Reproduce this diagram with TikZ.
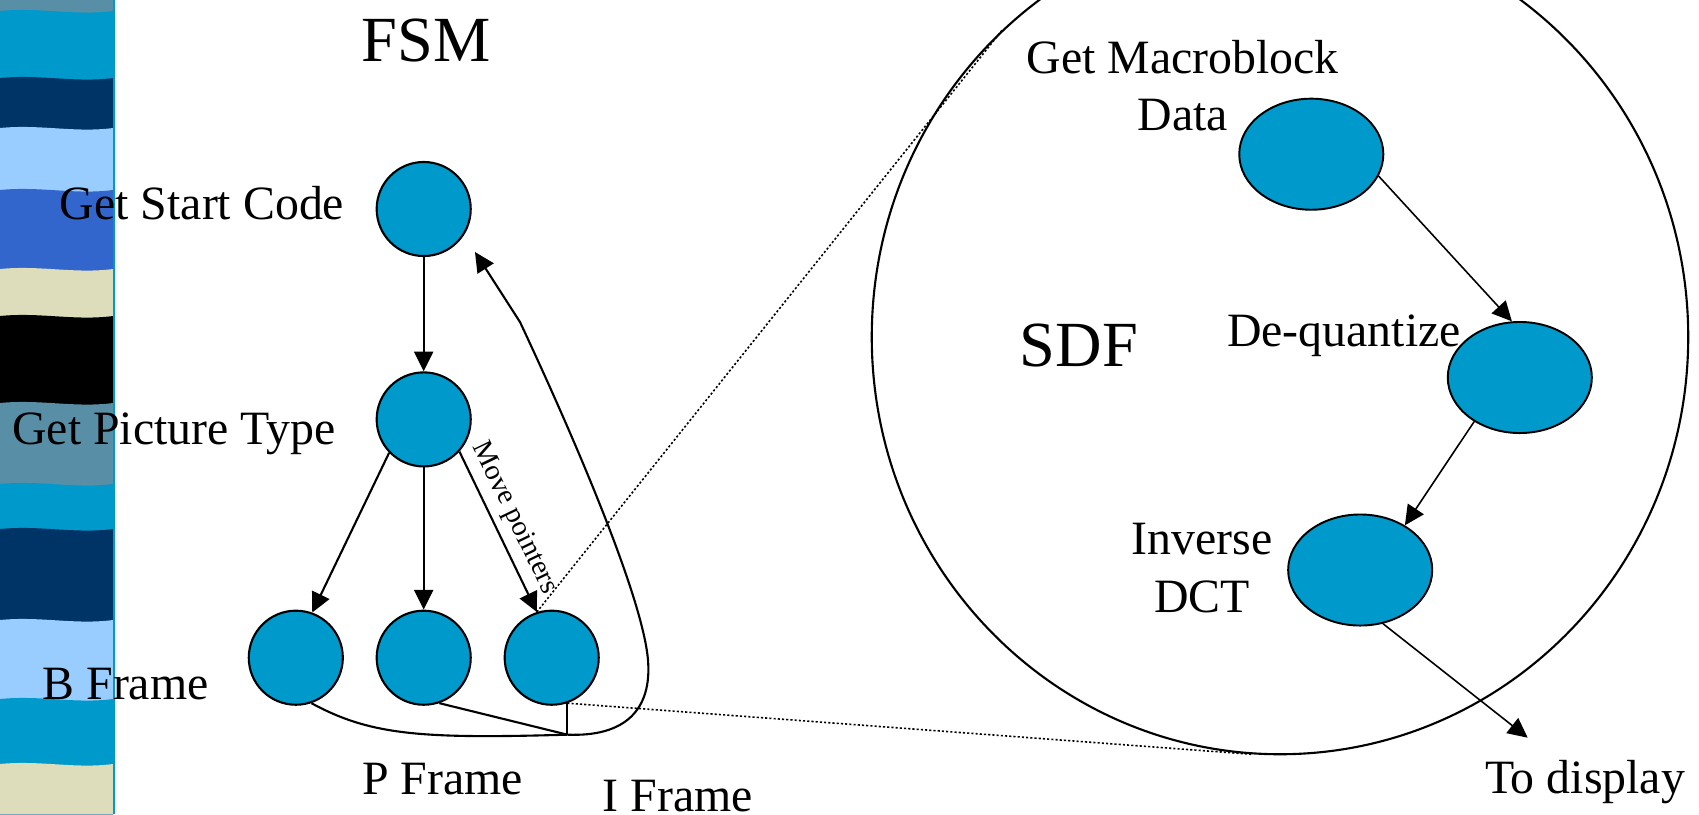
\documentclass[tikz,border=0pt]{standalone}
\usepackage{fontspec}
\setmainfont{Liberation Serif}
\usetikzlibrary{shapes.geometric, arrows.meta}
\definecolor{nodeblue}{RGB}{0,153,204}
\definecolor{stteal}{RGB}{88,143,166}
\definecolor{stcyan}{RGB}{0,153,204}
\definecolor{stnavy}{RGB}{0,51,102}
\definecolor{stlight}{RGB}{153,204,255}
\definecolor{stroyal}{RGB}{51,102,204}
\definecolor{stbeige}{RGB}{221,221,187}
\tikzset{
  st/.style={circle, draw=black, line width=0.6pt, fill=nodeblue, minimum size=0.94cm, inner sep=0pt},
  sdfnode/.style={ellipse, draw=black, line width=0.55pt, fill=nodeblue, minimum width=1.44cm, minimum height=1.11cm, inner sep=0pt},
  lbl/.style={font=\fontsize{13.6}{16.3}\selectfont, inner sep=0pt, anchor=base},
  big/.style={font=\fontsize{18.3}{22}\selectfont, inner sep=0pt, anchor=base},
  arr/.style={line width=0.6pt, -{Triangle[length=5.6pt,width=5.4pt]}},
  sarr/.style={line width=0.45pt, -{Triangle[length=5.6pt,width=5.4pt]}},
  conn/.style={line width=0.6pt},
  zoomline/.style={line width=0.45pt, dash pattern=on 0.6pt off 0.6pt},
}
\begin{document}
\begin{tikzpicture}[x=0.01cm, y=-0.01cm]
\useasboundingbox (0,0) rectangle (1699,814);
% left decorative stripe
\fill[stteal] (0,0) rectangle (113,814);
\foreach \yy/\cc in {11/stcyan, 78/stnavy, 128/stlight, 190/stroyal, 269/stbeige, 316/black, 403/stteal, 484/stcyan, 529/stnavy, 620/stlight, 699/stcyan, 764/stbeige}{
  \fill[\cc] (0,\yy) .. controls (40,\yy-4) and (75,\yy+5) .. (113,\yy) -- (113,814) -- (0,814) -- cycle;
}
\draw[stcyan, line width=0.6pt] (114,0) -- (114,814);

% titles
\node[big] (fsm) at (426,61) {FSM};
\node[big] (sdf) at (1079,366) {SDF};

% FSM nodes
\node[st] (start) at (423.7,209) {};
\node[st] (pic) at (423.7,419.4) {};
\node[st] (bf) at (295.8,657.7) {};
\node[st] (pf) at (423.7,657.7) {};
\node[st] (if) at (551.7,657.7) {};

\node[lbl] (lstart) at (202,219) {Get Start Code};
\node[lbl] (lpic) at (174,444) {Get Picture Type};
\node[lbl] (lb) at (125.6,699) {B Frame};
\node[lbl] (lp) at (442.7,794) {P Frame};
\node[lbl] (li) at (678,811) {I Frame};

% SDF zone
\node[draw, ellipse, line width=0.6pt, minimum width=8.16cm, minimum height=8.34cm, inner sep=0pt] (zone) at (1280,337) {};

\node[sdfnode] (mb) at (1311.3,154.2) {};
\node[sdfnode] (dq) at (1519.8,377.5) {};
\node[sdfnode] (idct) at (1360.2,570) {};

\node[lbl, align=center] (lmb) at (1182.7,130.7) {Get Macroblock\\Data};
\node[lbl] (ldq) at (1344,346.7) {De-quantize};
\node[lbl, align=center] (lid) at (1202,612) {Inverse\\DCT};
\node[lbl] (ldisp) at (1585,793.3) {To display};
\coordinate (disptip) at (1527.7,737.7);

% FSM connectors
\draw[arr] (start.south) -- (pic.north);
\draw[arr] (pic.-136.3) -- (bf.70);
\draw[arr] (pic.south) -- (pf.north);
\draw[arr] (pic.-42.8) -- node[sloped, above, pos=0.47, font=\fontsize{8.1}{9.7}\selectfont, inner sep=2pt] {Move pointers} (if.108.7);

\path (if.-71) ++(0,31.5) coordinate (J);
\coordinate (fbk) at (520,322);
\coordinate (fbtip) at (475,252);
\draw[conn] (bf.-71) .. controls (370,735) and (420,739) .. (J);
\draw[conn] (pf.-71) -- (J);
\draw[conn] (if.-71) -- (J);
\draw[arr] (J) .. controls (625,737) and (652,710) .. (648,660) .. controls (643,600) and (580,450) .. (fbk) -- (fbtip);

% zoom lines
\draw[zoomline] (if.108.7) -- (zone.132.6);
\draw[zoomline] (if.-71) -- (zone.266);

% SDF connectors
\draw[sarr] (mb.-18) -- (dq.98);
\draw[sarr] (dq.224.6) -- (idct.45);
\draw[sarr] (idct.-67.5) -- (disptip);
\end{tikzpicture}
\end{document}
